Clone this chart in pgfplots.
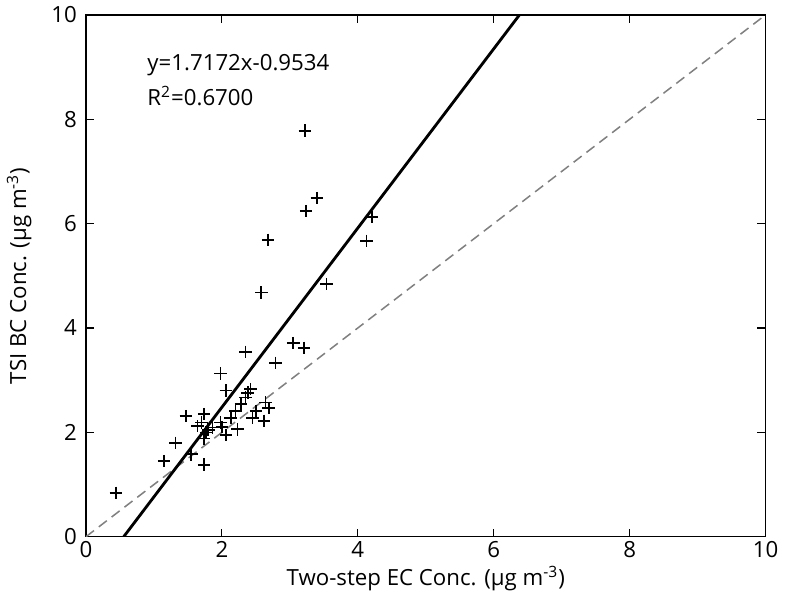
\documentclass[border=0pt]{standalone}
\usepackage{fontspec}
\setmainfont{Open Sans}
\usepackage{pgfplots}
\pgfplotsset{compat=1.18}

\begin{document}
\begin{tikzpicture}
\begin{axis}[
  scale only axis,
  width=336pt, height=258pt,
  xmin=0, xmax=10, ymin=0, ymax=10,
  xtick={0,2,...,10}, ytick={0,2,...,10},
  tick align=inside,
  major tick length=4pt,
  tick style={black, line width=0.6pt},
  axis line style={line width=0.7pt},
  /pgf/number format/assume math mode=true,
  ticklabel style={font=\fontsize{11}{13}\selectfont},
  xticklabel style={yshift=1pt},
  yticklabel style={xshift=-1pt},
  xlabel={Two-step EC Conc. (µg m\textsuperscript{-3})},
  ylabel={TSI BC Conc. (µg m\textsuperscript{-3})},
  label style={font=\fontsize{11}{13}\selectfont},
  xlabel style={yshift=3pt},
  ylabel style={yshift=3pt},
  clip=true,
]
% 1:1 reference line
\addplot[gray, line width=0.75pt, dash pattern=on 5pt off 3pt] coordinates {(0,0) (10,10)};
% least-squares fit
\addplot[black, line width=1.4pt] coordinates {(0.5552,0) (6.3789,10)};
% paired observations
\addplot[only marks, mark=+, mark size=3.1pt, mark options={line width=0.8pt, black}] coordinates {
(0.44,0.84) (1.15,1.45) (1.32,1.80) (1.55,1.58) (1.74,1.38) (1.74,1.88)
(1.47,2.31) (1.74,2.35) (1.64,2.12) (1.80,2.05) (1.86,2.09) (1.70,2.19)
(1.98,2.19) (2.06,1.95) (2.23,2.06) (2.13,2.28) (2.20,2.41) (2.28,2.54)
(2.35,2.67) (2.38,2.76) (2.42,2.83) (2.06,2.80) (1.98,3.13) (2.45,2.28)
(2.50,2.41) (2.62,2.22) (2.64,2.57) (2.69,2.47) (2.35,3.54) (2.79,3.33)
(3.05,3.71) (3.21,3.62) (2.58,4.68) (2.68,5.69) (3.24,6.24) (3.40,6.49)
(3.22,7.78) (3.54,4.84) (4.13,5.67) (4.21,6.13) (1.77,2.00) (2.00,2.10)
};
\node[anchor=west, font=\fontsize{11}{13}\selectfont] at (axis cs:0.8,9.04) {y=1.7172x-0.9534};
\node[anchor=west, font=\fontsize{11}{13}\selectfont] at (axis cs:0.8,8.44) {R\textsuperscript{2}=0.6700};
\end{axis}
\end{tikzpicture}
\end{document}
